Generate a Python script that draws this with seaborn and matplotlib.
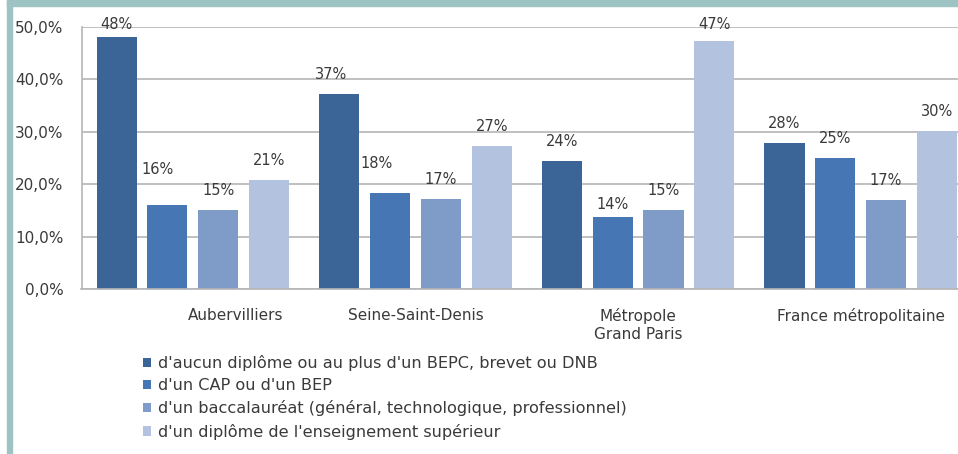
import pandas as pd
import matplotlib.pyplot as plt
import matplotlib.transforms as mtransforms
import seaborn as sns
from matplotlib.patches import Patch, Rectangle
from matplotlib.ticker import FuncFormatter

# territories and diploma levels
zones = ['Aubervilliers', 'Seine-Saint-Denis', 'Métropole\nGrand Paris', 'France métropolitaine']
niveaux = [
    "d'aucun diplôme ou au plus d'un BEPC, brevet ou DNB",
    "d'un CAP ou d'un BEP",
    "d'un baccalauréat (général, technologique, professionnel)",
    "d'un diplôme de l'enseignement supérieur",
]

# share of population (%)
aucun = [48.1, 37.2, 24.4, 27.9]
cap_bep = [16.0, 18.4, 13.7, 25.0]
bac = [15.1, 17.2, 15.1, 17.0]
superieur = [20.8, 27.3, 47.4, 30.2]

# labels printed above the bars
lab_aucun = ['48%', '37%', '24%', '28%']
lab_cap = ['16%', '18%', '14%', '25%']
lab_bac = ['15%', '17%', '15%', '17%']
lab_sup = ['21%', '27%', '47%', '30%']

colors = ['#3b6497', '#4776b4', '#7f9cc9', '#b3c3df']

rows = []
for niv, vals in zip(niveaux, [aucun, cap_bep, bac, superieur]):
    for z, v in zip(zones, vals):
        rows.append({'zone': z, 'niveau': niv, 'part': v})
df = pd.DataFrame(rows)

sns.set_style('white')
plt.rcParams['font.family'] = ['DejaVu Sans']
txt = '#3a3a3a'

W, H = 958, 454
fig = plt.figure(figsize=(W / 100, H / 100), dpi=100)

# teal frame on top and left (the picture is cropped on the right)
fig.patches.append(Rectangle((7 / W, 1 - 6 / H), 1, 6 / H, transform=fig.transFigure,
                             color='#9dc3c2', zorder=0))
fig.patches.append(Rectangle((7 / W, 0), 5 / W, 1, transform=fig.transFigure,
                             color='#9dc3c2', zorder=0))

ax = fig.add_axes([81.5 / W, (H - 289) / H, (972 - 81.5) / W, (289 - 27) / H])

sns.barplot(data=df, x='zone', y='part', hue='niveau', palette=colors,
            width=0.913, gap=0.21, legend=False, ax=ax, saturation=1, linewidth=0)

ax.set_ylim(0, 50)
ax.set_yticks([0, 10, 20, 30, 40, 50])
ax.yaxis.set_major_formatter(FuncFormatter(lambda v, p: f'{v:.1f}%'.replace('.', ',')))
ax.grid(axis='y', color='#b5b5b5', linewidth=1.2)
ax.set_axisbelow(True)
ax.set_xlabel('')
ax.set_ylabel('')
for s in ['top', 'right']:
    ax.spines[s].set_visible(False)
ax.spines['left'].set_color('#b5b5b5')
ax.spines['bottom'].set_color('#b5b5b5')
ax.spines['left'].set_linewidth(1.2)
ax.spines['bottom'].set_linewidth(1.2)
ax.tick_params(axis='y', length=0, pad=13, labelsize=11, labelcolor=txt)
ax.tick_params(axis='x', length=0, pad=14, labelsize=11, labelcolor=txt)

# first category label sits a bit right of its group in the original
lbl = ax.get_xticklabels()[0]
lbl.set_transform(lbl.get_transform() + mtransforms.ScaledTranslation(43 / 100, 0, fig.dpi_scale_trans))

# value labels, with the few hand-placed ones of the original nudged (px)
# key: (level index, zone index)
nudge = {(0, 0): (0, -7), (0, 1): (-8, 0), (1, 0): (-10, 16), (1, 1): (-13, 10),
         (1, 2): (0, -7), (3, 2): (0, -3)}
for i, (cont, labs) in enumerate(zip(ax.containers, [lab_aucun, lab_cap, lab_bac, lab_sup])):
    for j, (bar, lab) in enumerate(zip(cont, labs)):
        dx, dy = nudge.get((i, j), (0, 0))
        ax.annotate(lab, (bar.get_x() + bar.get_width() / 2, bar.get_height()),
                    xytext=(dx * 0.72, 8.5 + dy * 0.72), textcoords='offset points',
                    ha='center', va='bottom', fontsize=10.5, color=txt)

handles = [Patch(facecolor=c, edgecolor='none') for c in colors]
fig.legend(handles, niveaux, loc='upper left', bbox_to_anchor=(143 / W, 1 - 355 / H),
           frameon=False, fontsize=11.6, handlelength=0.5, handleheight=0.5,
           handletextpad=0.4, labelspacing=0.45, borderaxespad=0, borderpad=0,
           labelcolor=txt)

fig.savefig('out.png', dpi=100)
